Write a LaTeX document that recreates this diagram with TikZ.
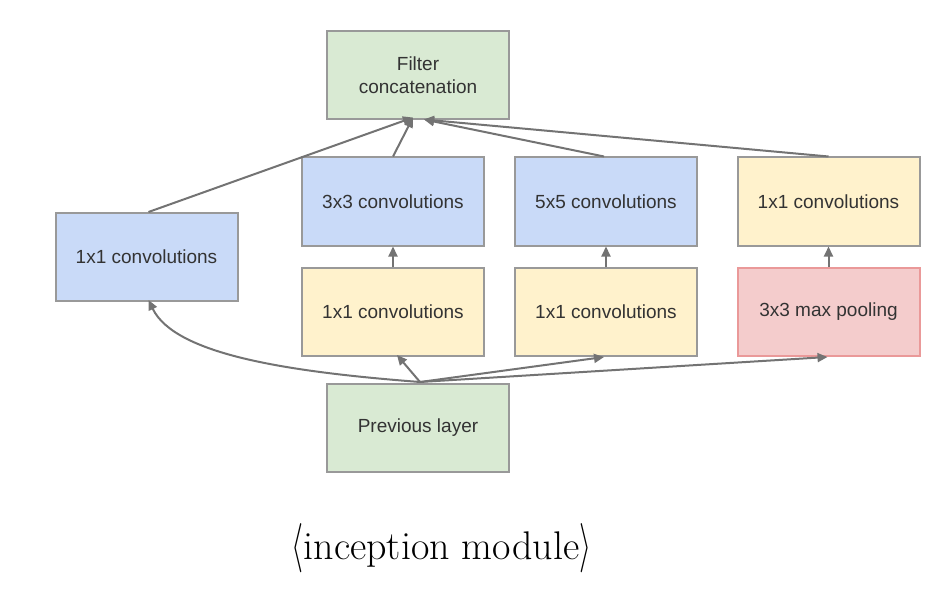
\documentclass[tikz,border=0pt]{standalone}
\usepackage{fontspec}
\usepackage{graphicx}
\newfontfamily\boxfont{Liberation Sans}
\usetikzlibrary{arrows.meta}
\definecolor{bluef}{HTML}{C9DAF8}
\definecolor{yellowf}{HTML}{FFF2CC}
\definecolor{greenf}{HTML}{D9EAD3}
\definecolor{redf}{HTML}{F4CCCC}
\definecolor{redd}{HTML}{EA9999}
\definecolor{edge}{HTML}{999999}
\definecolor{arr}{HTML}{737373}
\definecolor{txt}{HTML}{333333}
\newcommand{\bigbrack}[1]{\raisebox{-1pt}{\resizebox{12pt}{37pt}{\fontsize{10}{12}\selectfont$#1$}}}
\tikzset{
  blk/.style={draw=edge, line width=2pt, minimum width=182pt, minimum height=88pt,
    inner sep=0pt, align=center, text=txt, font=\boxfont\fontsize{19}{23}\selectfont},
  bluebox/.style={blk, fill=bluef},
  yellowbox/.style={blk, fill=yellowf},
  greenbox/.style={blk, fill=greenf},
  redbox/.style={blk, fill=redf, draw=redd},
  conn/.style={draw=arr, line width=2pt, -{Triangle[length=10pt,width=9pt]}},
}
\begin{document}
\begin{tikzpicture}[x=1pt,y=-1pt]
\useasboundingbox (0,0) rectangle (948,591);
\node[greenbox] (concat) at (418,75.5) {Filter\\concatenation};
\node[bluebox] (left) at (146.5,257) {1x1 convolutions};
\node[bluebox] (c3) at (393,201.5) {3x3 convolutions};
\node[bluebox] (c5) at (606,201.5) {5x5 convolutions};
\node[yellowbox] (rtop) at (828.5,201.5) {1x1 convolutions};
\node[yellowbox] (r3) at (393,312) {1x1 convolutions};
\node[yellowbox] (r5) at (606,312) {1x1 convolutions};
\node[redbox] (pool) at (828.5,312) {3x3 max pooling};
\node[greenbox] (prev) at (418,428) {Previous layer};
\node[font=\fontsize{40}{48}\selectfont, anchor=base] (cap) at (441.5,559) {\bigbrack{\langle}inception module\bigbrack{\rangle}};

\coordinate (src) at ([xshift=2pt,yshift=1pt]prev.north);
\coordinate (tl) at ([xshift=-5pt,yshift=3pt]concat.south);
\coordinate (tr) at ([xshift=6pt,yshift=1pt]concat.south);
\coordinate (lend) at ([xshift=2pt,yshift=2pt]left.south);
\draw[conn] (src) .. controls (290,372) and (175,355) .. (lend);
\draw[conn] (src) -- ([xshift=4pt,yshift=2pt]r3.south);
\draw[conn] (src) -- ([xshift=-2pt]r5.south);
\draw[conn] (src) -- ([xshift=-1pt]pool.south);
\draw[conn] (r3.north) -- (c3.south);
\draw[conn] (r5.north) -- (c5.south);
\draw[conn] (pool.north) -- (rtop.north |- rtop.south);
\draw[conn] ([xshift=2pt]left.north) -- (tl);
\draw[conn] (c3.north) -- (tl);
\draw[conn] ([xshift=-2pt]c5.north) -- (tr);
\draw[conn] (rtop.north) -- (tr);
\end{tikzpicture}
\end{document}
